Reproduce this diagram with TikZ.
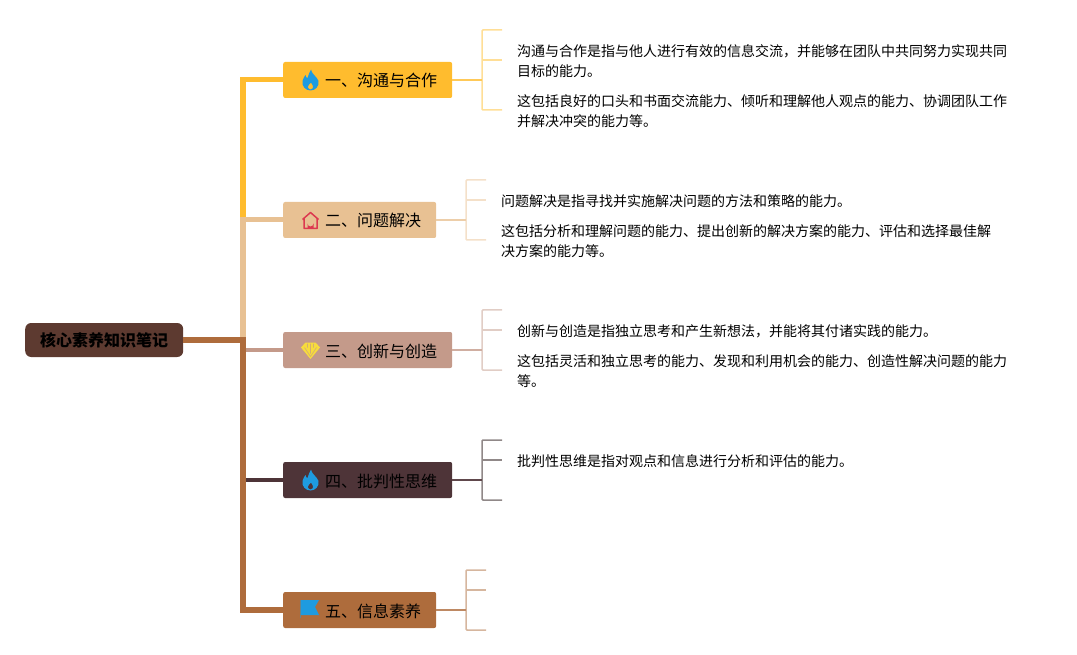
\documentclass[tikz,border=0pt]{standalone}
\usepackage{fontspec}
\setmainfont{Noto Sans CJK SC}
\definecolor{rootbrown}{HTML}{5D3A30}
\definecolor{oneyellow}{HTML}{FFBC2E}
\definecolor{twotan}{HTML}{E8C193}
\definecolor{threerose}{HTML}{C49A8A}
\definecolor{fourdark}{HTML}{4E3438}
\definecolor{fourgrey}{HTML}{908888}
\definecolor{fivebrown}{HTML}{AE6C3C}
\definecolor{iconblue}{HTML}{1E9BE0}
\definecolor{iconred}{HTML}{DC3A50}
\definecolor{iconyellow}{HTML}{F7DC3C}
\tikzset{
  topicbox/.style={draw=none,rounded corners=2pt,anchor=west,minimum height=36pt,inner xsep=15pt,inner ysep=0pt,text height=14pt,text depth=0pt,font=\fontsize{16}{20}\selectfont},
  leaftext/.style={anchor=west,align=left,inner xsep=15pt,inner ysep=0pt,font=\fontsize{14}{20}\selectfont},
  flame/.pic={
    \fill[iconblue,even odd rule] (0.5,-10.5) .. controls (1,-6) and (6,-4) .. (8,1) .. controls (9,6) and (5,10.5) .. (0,10.5)
      .. controls (-5,10.5) and (-9,6) .. (-8,1) .. controls (-7.5,-2) and (-6,-3) .. (-5,-5) .. controls (-4.5,-3) and (-4,-2) .. (-3,-2) .. controls (-2,-5) and (-1,-8) .. (0.5,-10.5) -- cycle
      (0,9.5) .. controls (2,9.5) and (3,7.5) .. (2.5,6) .. controls (2,5) and (1,4) .. (0.5,2.5) .. controls (-0.5,4) and (-3,5.5) .. (-2.7,7) .. controls (-2.4,8.5) and (-1.2,9.5) .. (0,9.5) -- cycle;
  },
  house/.pic={
    \draw[iconred,line width=1.5pt,line join=round] (-8,-1) -- (0,-8) -- (8,-1) (-6.5,-2) -- (-6.5,8) -- (6.5,8) -- (6.5,-2);
    \fill[iconred] (-3,8.5) -- (-3,3) arc[start angle=180,end angle=0,radius=3] -- (3,8.5) -- cycle;
  },
  gem/.pic={
    \fill[iconyellow] (-5,-8) -- (5,-8) -- (9.5,-3) -- (0,8.5) -- (-9.5,-3) -- cycle;
    \draw[threerose!70!iconyellow,line width=.6pt] (-6,-3) -- (0,6) -- (6,-3) (-3,-7) -- (-3,-3) (3,-7) -- (3,-3) (0,-7) -- (0,3);
  },
  flag/.pic={
    \fill[iconblue] (-9,-9) -- (9,-9) -- (5,-2) -- (9,6) -- (-9,6) -- cycle;
    \draw[iconblue!50!fivebrown,line width=1pt] (-9.5,-9) -- (-9.5,9);
  }
}
\begin{document}
\begin{tikzpicture}[x=1pt,y=-1pt]
  \useasboundingbox (0,0) rectangle (1077,655);
  % root and the five topics
  \node[fill=rootbrown,rounded corners=6pt,anchor=west,minimum width=158pt,minimum height=34pt,inner sep=0pt,font=\fontsize{16}{20}\selectfont\bfseries] (root) at (25,340) {核心素养知识笔记};
  \node[topicbox,fill=oneyellow] (one) at (283,80) {\hspace*{27pt}一、沟通与合作};
  \node[topicbox,fill=twotan] (two) at (283,220) {\hspace*{27pt}二、问题解决};
  \node[topicbox,fill=threerose] (three) at (283,350) {\hspace*{27pt}三、创新与创造};
  \node[topicbox,fill=fourdark] (four) at (283,480) {\hspace*{27pt}四、批判性思维};
  \node[topicbox,fill=fivebrown] (five) at (283,610) {\hspace*{27pt}五、信息素养};
  % icons
  \pic at (310.5,80) {flame};
  \pic at (310.5,220.5) {house};
  \pic at (310.5,350.5) {gem};
  \pic at (310,609) {flag};
  \pic at (310.5,480) {flame};
  % trunk
  \coordinate (hubup) at (243,220);
  \coordinate (hubdown) at (243,340);
  \draw[threerose,line width=4pt] (three.west) -- (three.west -| hubup);
  \draw[fourdark,line width=3.5pt] (four.west) -- (four.west -| hubup);
  \draw[oneyellow,line width=5pt] (one.west) -- (one.west -| hubup);
  \draw[oneyellow,line width=6pt] ([yshift=2.5pt]hubup |- one.west) -- ([yshift=2pt]hubup);
  \draw[twotan,line width=6pt] ([yshift=2pt]hubup) -- (hubdown);
  \draw[twotan,line width=5pt] (two.west) -- ([xshift=-3pt]hubup);
  \draw[fivebrown,line width=6pt] (root.east) -- ([xshift=3pt]hubdown);
  \draw[fivebrown,line width=6pt] ([yshift=3pt]hubdown) |- (five.west);
  % leaves of topic one
  \coordinate (onea) at (502,30);
  \node[leaftext] (oneb) at (502,61.5) {沟通与合作是指与他人进行有效的信息交流，并能够在团队中共同努力实现共同\\目标的能力。};
  \node[leaftext] (onec) at (502,111.5) {这包括良好的口头和书面交流能力、倾听和理解他人观点的能力、协调团队工作\\并解决冲突的能力等。};
  \coordinate (onehub) at (482,80);
  \draw[oneyellow!50,line width=1.5pt,rounded corners=1pt] (onea) -| ([yshift=1.5pt]onehub |- onec.west) -- ([yshift=1.5pt]onec.west);
  \draw[oneyellow!50,line width=1.5pt] ([yshift=1.5pt]onehub |- oneb.west) -- ([yshift=1.5pt]oneb.west);
  \draw[oneyellow!80,line width=2pt] (one.east) -- (onehub);
  % leaves of topic two
  \coordinate (twoa) at (486,180);
  \node[leaftext] (twob) at (486,201.5) {问题解决是指寻找并实施解决问题的方法和策略的能力。};
  \node[leaftext] (twoc) at (486,241.5) {这包括分析和理解问题的能力、提出创新的解决方案的能力、评估和选择最佳解\\决方案的能力等。};
  \coordinate (twohub) at (466,220);
  \draw[twotan!50,line width=1.5pt,rounded corners=1pt] (twoa) -| ([yshift=1.5pt]twohub |- twoc.west) -- ([yshift=1.5pt]twoc.west);
  \draw[twotan!50,line width=1.5pt] ([yshift=1.5pt]twohub |- twob.west) -- ([yshift=1.5pt]twob.west);
  \draw[twotan!80,line width=2pt] (two.east) -- (twohub);
  % leaves of topic three
  \coordinate (threea) at (502,310);
  \node[leaftext] (threeb) at (502,331.5) {创新与创造是指独立思考和产生新想法，并能将其付诸实践的能力。};
  \node[leaftext] (threec) at (502,371.5) {这包括灵活和独立思考的能力、发现和利用机会的能力、创造性解决问题的能力\\等。};
  \coordinate (threehub) at (482,350);
  \draw[threerose!50,line width=1.5pt,rounded corners=1pt] (threea) -| ([yshift=1.5pt]threehub |- threec.west) -- ([yshift=1.5pt]threec.west);
  \draw[threerose!50,line width=1.5pt] ([yshift=1.5pt]threehub |- threeb.west) -- ([yshift=1.5pt]threeb.west);
  \draw[threerose!80,line width=2pt] (three.east) -- (threehub);
  % leaves of topic four
  \coordinate (foura) at (502,440);
  \node[leaftext] (fourb) at (502,461.5) {批判性思维是指对观点和信息进行分析和评估的能力。};
  \coordinate (fourc) at (502,500);
  \coordinate (fourhub) at (482,480);
  \draw[fourgrey,line width=1.5pt,rounded corners=1pt] (foura) -| (fourhub |- fourc) -- (fourc);
  \draw[fourgrey,line width=1.5pt] ([yshift=1.5pt]fourhub |- fourb.west) -- ([yshift=1.5pt]fourb.west);
  \draw[fourdark!90,line width=2pt] (four.east) -- (fourhub);
  % leaves of topic five
  \coordinate (fivea) at (486,570);
  \coordinate (fiveb) at (486,590);
  \coordinate (fivec) at (486,630);
  \coordinate (fivehub) at (466,610);
  \draw[fivebrown!50,line width=1.5pt,rounded corners=1pt] (fivea) -| (fivehub |- fivec) -- (fivec);
  \draw[fivebrown!50,line width=1.5pt] (fivehub |- fiveb) -- (fiveb);
  \draw[fivebrown!80,line width=2pt] (five.east) -- (fivehub);
\end{tikzpicture}
\end{document}
